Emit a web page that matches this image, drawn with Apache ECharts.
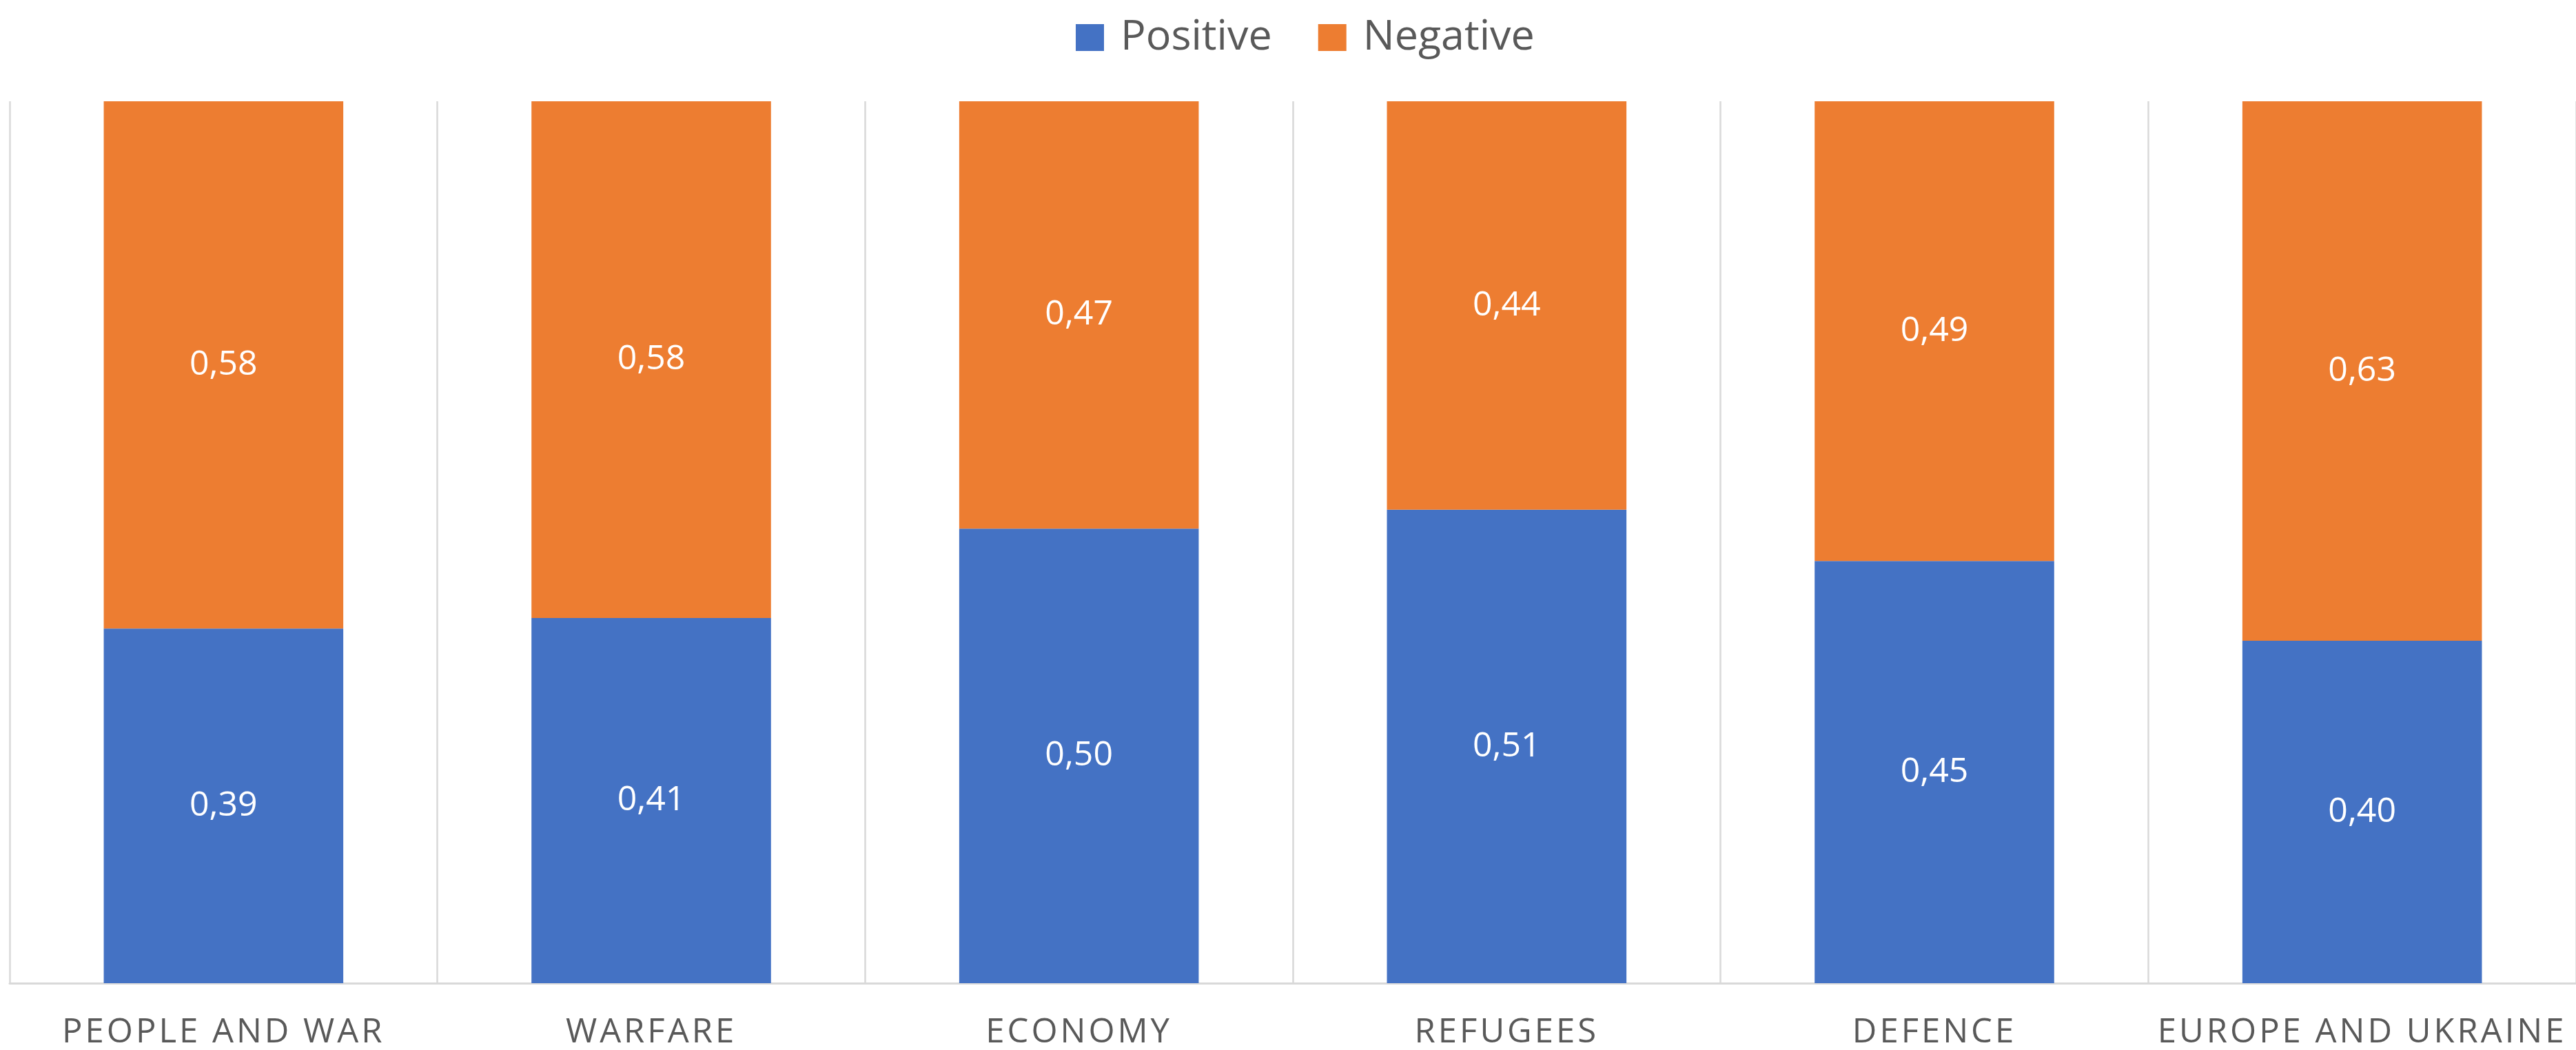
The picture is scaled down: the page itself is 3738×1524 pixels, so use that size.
<!DOCTYPE html>
<html>
<head>
<meta charset="utf-8">
<script src="https://cdn.jsdelivr.net/npm/echarts@6/dist/echarts.min.js"></script>
<style>
html,body{margin:0;padding:0;background:#fff;}
#chart{width:3738px;height:1524px;}
</style>
</head>
<body>
<div id="chart"></div>
<script>
const categories = ['PEOPLE AND WAR', 'WARFARE', 'ECONOMY', 'REFUGEES', 'DEFENCE', 'EUROPE AND UKRAINE'];
const positive = [0.39, 0.41, 0.50, 0.51, 0.45, 0.40];
const negative = [0.58, 0.58, 0.47, 0.44, 0.49, 0.63];
const seriesNames = ['Positive', 'Negative'];

// letter spacing only for the category axis labels
(function () {
  const proto = CanvasRenderingContext2D.prototype;
  const orig = proto.fillText;
  proto.fillText = function (t, x, y, w) {
    const args = Array.prototype.slice.call(arguments);
    if (categories.indexOf(t) >= 0 && 'letterSpacing' in this) {
      const f = this.font;
      this.letterSpacing = '4px';
      this.font = f;
      const r = orig.apply(this, args);
      this.letterSpacing = '0px';
      this.font = f;
      return r;
    }
    if ('letterSpacing' in this && this.letterSpacing !== '0px') {
      const f = this.font;
      this.letterSpacing = '0px';
      this.font = f;
    }
    return orig.apply(this, args);
  };
})();

const totals = positive.map((p, i) => p + negative[i]);
const posShare = positive.map((p, i) => p / totals[i]);
const negShare = negative.map((n, i) => n / totals[i]);
const fmt = v => v.toFixed(2).replace('.', ',');

const chart = echarts.init(document.getElementById('chart'));
const labelStyle = {
  show: true,
  position: 'inside',
  color: '#ffffff',
  fontFamily: 'Open Sans',
  fontSize: 50
};
chart.setOption({
  animation: false,
  color: ['#4472C4', '#ED7D31'],
  legend: {
    data: seriesNames,
    left: 1556,
    top: 19,
    itemWidth: 41,
    itemHeight: 39,
    itemGap: 67,
    icon: 'rect',
    textStyle: {
      color: '#595959',
      fontFamily: 'Open Sans',
      fontSize: 61,
      lineHeight: 39,
      padding: [0, 0, 0, 19]
    }
  },
  grid: { left: 14, right: -8, top: 147, bottom: 96, containLabel: false },
  xAxis: {
    type: 'category',
    data: categories,
    axisTick: { show: false },
    axisLine: { show: true, lineStyle: { color: '#d9d9d9', width: 3 } },
    splitLine: { show: true, lineStyle: { color: '#d9d9d9', width: 2.5 } },
    axisLabel: {
      color: '#595959',
      fontFamily: 'Open Sans',
      fontSize: 49,
      lineHeight: 50,
      margin: 47,
      interval: 0
    }
  },
  yAxis: {
    type: 'value',
    min: 0,
    max: 1,
    show: false,
    splitLine: { show: false }
  },
  series: [
    {
      name: seriesNames[0],
      type: 'bar',
      stack: 'total',
      barCategoryGap: '44%',
      data: posShare,
      label: Object.assign({}, labelStyle, { formatter: p => fmt(positive[p.dataIndex]) })
    },
    {
      name: seriesNames[1],
      type: 'bar',
      stack: 'total',
      barCategoryGap: '44%',
      data: negShare,
      label: Object.assign({}, labelStyle, { formatter: p => fmt(negative[p.dataIndex]) })
    }
  ]
});
</script>
</body>
</html>
